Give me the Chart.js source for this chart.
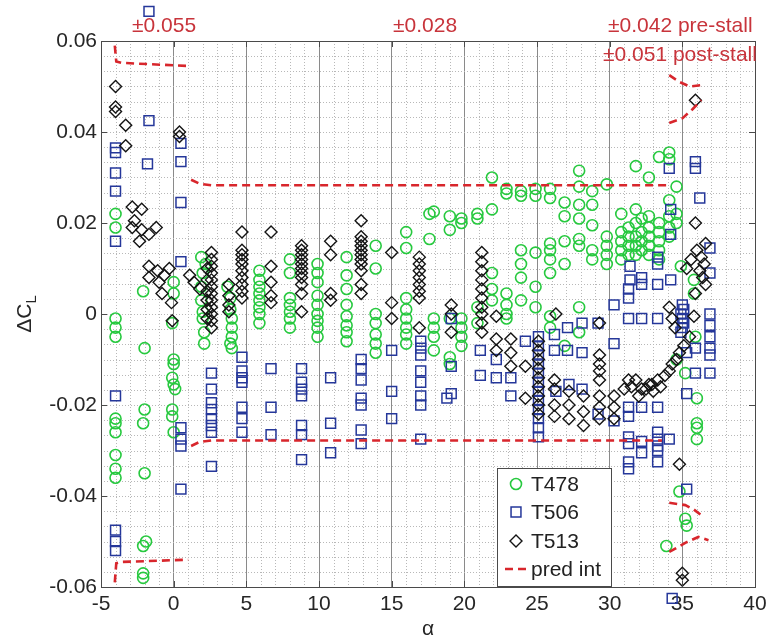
<!DOCTYPE html>
<html>
<head>
<meta charset="utf-8">
<title>Delta CL vs alpha</title>
<script src="https://cdn.jsdelivr.net/npm/chart.js@4.4.0/dist/chart.umd.min.js"></script>
<style>
  body { margin: 0; background: #fff; }
  #wrap { width: 779px; height: 641px; }
</style>
</head>
<body>
<div id="wrap"><canvas id="dclChart" width="779" height="641"></canvas></div>
<script>
    // axis ticks
    var xTicks = [-5, 0, 5, 10, 15, 20, 25, 30, 35, 40];
    var yTicks = [-0.06, -0.04, -0.02, 0, 0.02, 0.04, 0.06];
    var seriesNames = ['T478', 'T506', 'T513', 'pred int'];
    var bandNotes = ['\u00b10.055', '\u00b10.028', '\u00b10.042 pre-stall', '\u00b10.051 post-stall'];

    // T478 (green circles), one line per alpha group
    var t478Alpha = [
        -4, -4, -4, -4, -4, -4, -4, -4, -4, -4, -4,
        -2.1, -2, -2, -2.1, -2, -1.9, -2.1, -2.1, -2.1,
        0, 0, -0.1, 0, 0, -0.1, 0, 0.1, -0.1, -0.1, 0,
        1.9, 2, 1.9, 1.9, 2, 2, 2.1, 2.2, 2.1,
        3.7, 3.9, 3.9, 4, 4, 4, 3.9, 4,
        5.9, 5.9, 5.9, 5.9, 5.9, 5.9, 5.9, 5.9,
        8, 8, 8, 8, 8, 8, 8,
        9.9, 9.9, 9.9, 9.9, 9.9, 9.9, 9.9, 9.9, 9.9,
        11.9, 11.9, 11.9, 11.9, 11.9, 11.9, 11.9, 11.9,
        13.9, 13.9, 13.9, 13.9, 13.9, 13.9, 13.9,
        16, 16, 16, 16, 16, 16, 16, 16,
        17.6, 17.6, 17.9, 17.9, 17.9, 17.9, 17.9,
        19, 19, 19, 19, 19,
        19.8, 19.8, 19.8, 19.8, 19.8, 19.8,
        20.9, 20.9, 20.9, 20.9,
        21.9, 21.9, 21.9, 21.9, 21.9,
        22.9, 22.9, 22.9, 22.9, 22.9, 22.9,
        23.9, 23.9, 23.9, 23.9, 23.9, 23.9,
        24.9, 24.9, 24.9, 24.9, 24.9,
        25.9, 25.9, 25.9, 25.9, 25.9, 25.9, 25.9, 25.9,
        26.9, 26.9, 26.9, 26.9, 26.9,
        27.9, 27.9, 27.9, 27.9, 27.9, 27.9, 27.9, 27.9,
        28.8, 28.8, 28.8, 28.8, 28.8,
        29.8, 29.8, 29.8, 29.8, 29.8,
        30.8, 30.8, 30.8, 30.8, 30.8,
        31.3, 31.3, 31.3, 31.3,
        31.8, 31.8, 31.8, 31.8, 31.8, 31.8,
        32.2, 32.2, 32.2, 32.2,
        32.7, 32.7, 32.7, 32.7, 32.7, 32.7,
        33.4, 33.4, 33.4, 33.4, 33.4, 33.4,
        34.1, 34.1, 34.1, 34.1, 34.1, 34.1,
        34.6, 34.6, 34.6,
        34.9, 35.8, 35.8, 34.6, 35.2, 34.8, 35.2, 35.3, 33.9,
        35.9, 36, 36, 36, 36
    ];
    var t478Dcl = [
        0.022, 0.019, -0.001, -0.003, -0.005, -0.023, -0.024, -0.026, -0.031, -0.034, -0.036,
        0.005, -0.0075, -0.021, -0.024, -0.035, -0.050, -0.051, -0.057, -0.058,
        0.007, 0.0045, -0.002, -0.010, -0.011, -0.014, -0.0155, -0.0165, -0.021, -0.0225, -0.026,
        0.0125, 0.009, 0.006, 0.003, 0.0005, -0.001, -0.004, 0.011, -0.0065,
        0.006, 0.0035, 0.001, -0.001, -0.003, -0.005, -0.0065, -0.0075,
        0.0095, 0.0075, 0.006, 0.0045, 0.003, 0.0015, 0, -0.002,
        0.012, 0.009, 0.0035, 0.002, 0.0005, -0.001, -0.003,
        0.011, 0.009, 0.007, 0.004, 0.002, 0, -0.0015, -0.003, -0.005,
        0.0125, 0.0085, 0.0055, 0.002, -0.0005, -0.0025, -0.004, -0.006,
        0.015, 0.010, 0, -0.002, -0.0045, -0.0065, -0.0085,
        0.018, 0.0145, 0.0035, 0.001, -0.001, -0.003, -0.0045, -0.0065,
        0.022, 0.0165, 0.0225, -0.001, -0.003, -0.005, -0.008,
        0.0215, 0.0185, -0.001, -0.0095, -0.011,
        0.021, 0.020, -0.001, -0.003, -0.005, -0.007,
        0.022, 0.021, 0.0015, -0.002,
        0.023, 0.030, 0.009, 0.0055, 0.003,
        0.0275, 0.0265, 0.0045, 0.002, 0, -0.001,
        0.027, 0.026, 0.014, 0.011, 0.008, 0.003,
        0.0275, 0.026, 0.0135, 0.006, 0.0015,
        0.0275, 0.0255, 0.0155, 0.014, 0.012, 0.009, -0.0005, -0.003,
        0.0245, 0.0215, 0.016, 0.011, -0.007,
        0.0315, 0.028, 0.024, 0.021, 0.0165, 0.015, 0.0015, -0.004,
        0.027, 0.024, 0.0195, 0.014, 0.012,
        0.0285, 0.017, 0.015, 0.013, 0.011,
        0.022, 0.018, 0.016, 0.014, 0.012,
        0.019, 0.017, 0.015, 0.013,
        0.0325, 0.023, 0.020, 0.017, 0.015, 0.013,
        0.021, 0.018, 0.016, 0.014,
        0.030, 0.0215, 0.019, 0.017, 0.015, 0.013,
        0.0345, 0.020, 0.018, 0.016, 0.014, 0.012,
        0.0355, 0.034, 0.025, 0.0215, 0.019, 0.017,
        0.028, 0.022, 0.020,
        0.0105, 0.0075, 0.0045, -0.010, -0.013, -0.039, -0.045, -0.0465, -0.051,
        -0.005, -0.0185, -0.024, -0.025, -0.0275
    ];

    // T506 (blue squares)
    var t506Alpha = [
        -4, -4, -4, -4, -4, -4, -4, -4, -4,
        -1.7, -1.7, -1.8,
        0.5, 0.5, 0.5, 0.5, 0.5, 0.5, 0.5, 0.5,
        2.6, 2.6, 2.6, 2.6, 2.6, 2.6, 2.6, 2.6,
        4.7, 4.7, 4.7, 4.7, 4.7, 4.7, 4.7,
        6.7, 6.7, 6.7,
        8.8, 8.8, 8.8, 8.8, 8.8, 8.8, 8.8,
        10.8, 10.8, 10.8,
        12.9, 12.9, 12.9, 12.9, 12.9, 12.9, 12.9,
        15, 15, 15,
        17, 17, 17, 17, 17, 17, 17, 17,
        19.1, 19.1, 18.8, 19.1,
        21.1, 21.1, 22.2, 22.2, 23.2, 23.2, 24.2,
        25.1, 25.1, 25.1, 25.1, 25.1, 25.1, 25.1, 25.1, 25.1, 25.1, 25.1, 25.1,
        26.2, 26.2, 26.3,
        27.1, 27.1, 27.2,
        28.1, 28.1, 28.1,
        29.2, 29.2,
        30.3, 30.3, 30.3,
        31.4, 31.4, 31.3, 31.3, 31.3, 31.3, 31.3, 31.3, 31.3, 31.3, 31.3,
        32.2, 32.2, 32.2, 32.2, 32.2, 32.2,
        33.3, 33.3, 33.3, 33.3, 33.3, 33.3, 33.3, 33.3, 33.3, 33.3,
        34.1, 34.2, 34.2, 34.2, 34.1,
        35, 35.1, 34.9, 35, 35.1, 35, 34.9, 35.3, 35.3, 35.3, 34.3,
        35.9, 35.9, 35.9, 35.9, 36.2,
        36.9, 36.9, 36.9, 36.9, 36.9, 36.9, 36.9, 36.9
    ];
    var t506Dcl = [
        0.0365, 0.0355, 0.031, 0.027, 0.016, -0.018, -0.0475, -0.050, -0.052,
        0.0665, 0.0425, 0.033,
        0.0375, 0.0335, 0.0245, 0.0115, -0.025, -0.0275, -0.029, -0.0385,
        -0.013, -0.0165, -0.0195, -0.021, -0.023, -0.0245, -0.026, -0.0335,
        -0.0095, -0.0125, -0.014, -0.015, -0.0205, -0.023, -0.026,
        -0.012, -0.0205, -0.0265,
        -0.012, -0.015, -0.0165, -0.018, -0.0245, -0.0265, -0.032,
        -0.014, -0.024, -0.0305,
        -0.010, -0.012, -0.0145, -0.0185, -0.020, -0.0255, -0.0285,
        -0.008, -0.017, -0.023,
        -0.006, -0.0075, -0.009, -0.0125, -0.015, -0.018, -0.020, -0.0275,
        -0.001, -0.0115, -0.0185, -0.0175,
        -0.008, -0.0135, -0.010, -0.014, -0.014, -0.018, -0.006,
        -0.005, -0.007, -0.009, -0.011, -0.013, -0.015, -0.017, -0.019, -0.021, -0.023, -0.025, -0.027,
        -0.0045, -0.008, -0.017,
        -0.003, -0.008, -0.0155,
        -0.002, -0.0085, -0.0165,
        -0.002, -0.022,
        0.002, -0.0065, -0.0235,
        0.0105, 0.0075, 0.0055, 0.0035, -0.001, -0.0205, -0.0225, -0.027, -0.0285, -0.0325, -0.034,
        0.008, 0.0065, -0.001, -0.0205, -0.028, -0.0305,
        0.0125, 0.011, 0.0065, -0.001, -0.0205, -0.026, -0.0275, -0.029, -0.030, -0.0325,
        0.032, 0.023, 0.0175, 0.0075, -0.0275,
        0.002, 0.001, 0, -0.001, -0.002, -0.003, -0.004, -0.0085, -0.0175, -0.0385, -0.0625,
        0.0335, 0.032, -0.0075, -0.013, 0.0255,
        0.0145, 0.009, 0, -0.0025, -0.005, -0.0075, -0.009, -0.013
    ];

    // T513 (black diamonds)
    var t513Alpha = [
        -4, -4, -4, -3.3, -3.3,
        -2.85, -2.2, -2.7, -2.85, -2.2, -2.35, -1.7, -1.2, -1.7, -1.1, -0.65, -1.7, -1.0, -0.8, -0.15, -0.1,
        0.4, 0.4, -0.3, 1.1, 1.4, 1.8,
        2.3, 2.3, 2.3, 2.3, 2.3, 2.3,
        2.6, 2.6, 2.6, 2.6, 2.6, 2.6, 2.6, 2.6, 2.6, 2.6, 2.6, 2.6,
        3.8, 3.8, 3.8, 3.8,
        4.7, 4.7, 4.7, 4.7, 4.7, 4.7, 4.7, 4.7, 4.7, 4.7,
        6.7, 6.7, 6.7, 6.7, 6.7,
        8.8, 8.8, 8.8, 8.8, 8.8, 8.8, 8.8, 8.8, 8.8, 8.8, 8.8,
        10.8, 10.8, 10.8, 10.8,
        12.9, 12.9, 12.9, 12.9, 12.9, 12.9, 12.9, 12.9, 12.9, 12.9, 12.9,
        15, 15, 15,
        16.9, 16.9, 16.9, 16.9, 16.9, 16.9, 16.9, 16.9,
        19.1, 19.1, 19.1,
        21.2, 21.2, 21.2, 21.2, 21.2, 21.2, 21.2, 21.2, 21.2, 21.2,
        22.2, 22.2, 22.2, 23.2, 23.2, 23.2, 24.2, 24.2,
        25.1, 25.1, 25.1, 25.1, 25.1, 25.1, 25.1, 25.1, 25.1,
        26.3, 26.2, 26.2, 26.2, 26.2,
        27.2, 27.2, 27.2,
        28.2, 28.2, 28.2,
        29.3, 29.3, 29.3, 29.3, 29.3, 29.3, 29.3, 29.3,
        30.3, 30.3, 30.3,
        31.0, 31.3, 31.5, 31.8, 32.0, 32.2, 32.5, 32.7, 32.9, 33.0, 33.3, 33.5,
        33.8, 34.1, 34.3, 34.6, 34.8, 35.1, 35.5, 35.8, 34.5, 34.3, 34.1,
        35.9, 35.9, 35.9, 36.6, 36.0, 36.3, 36.5, 36.2, 36.4, 35.6, 35.3, 36.6,
        34.8, 35.0, 35.0
    ];
    var t513Dcl = [
        0.050, 0.0455, 0.0445, 0.0415, 0.037,
        0.0235, 0.023, 0.0205, 0.019, 0.0185, 0.016, 0.0175, 0.019, 0.0105, 0.0095, 0.0085, 0.008, 0.007, 0.0045, 0.0025, -0.0015,
        0.040, 0.039, 0.010, 0.0085, 0.007, 0.0055,
        0.010, 0.0075, 0.005, 0.003, 0.001, -0.001,
        0.0135, 0.012, 0.0105, 0.009, 0.0075, 0.006, 0.0045, 0.003, 0.0015, 0, -0.0015, -0.003,
        0.0065, 0.004, 0.002, 0.0005,
        0.018, 0.014, 0.013, 0.012, 0.011, 0.0095, 0.008, 0.0065, 0.005, 0.0035,
        0.018, 0.0105, 0.007, 0.004, 0.0025,
        0.015, 0.014, 0.013, 0.012, 0.011, 0.010, 0.009, 0.008, 0.0065, 0.0045, 0.0005,
        0.016, 0.013, 0.0045, 0.003,
        0.0205, 0.017, 0.016, 0.015, 0.014, 0.013, 0.012, 0.011, 0.0095, 0.0065, 0.0045,
        0.0135, 0.0025, -0.001,
        0.0125, 0.011, 0.0095, 0.008, 0.0065, 0.005, 0.0035, -0.003,
        0.002, 0, -0.004,
        0.0135, 0.0115, 0.0095, 0.0075, 0.0055, 0.0035, 0.0015, 0, -0.002, -0.004,
        -0.0005, -0.0055, -0.008, -0.0055, -0.0085, -0.0115, -0.0115, -0.0185,
        -0.006, -0.008, -0.010, -0.012, -0.014, -0.016, -0.018, -0.020, -0.022,
        0, -0.0145, -0.0165, -0.020, -0.0225,
        -0.017, -0.020, -0.023,
        -0.018, -0.0215, -0.0245,
        -0.002, -0.009, -0.011, -0.0125, -0.0145, -0.018, -0.0205, -0.023,
        -0.018, -0.0205, -0.023,
        -0.0165, -0.0145, -0.016, -0.0145, -0.018, -0.0165, -0.0165, -0.0155, -0.0155, -0.017, -0.0145, -0.016,
        -0.0135, -0.0125, -0.011, -0.010, -0.0085, -0.007, -0.005, -0.0005, -0.003, -0.001, 0.0015,
        0.047, 0.020, 0.0045, 0.0155, 0.014, 0.0125, 0.011, 0.0095, 0.008, 0.012, 0.010, 0.0065,
        -0.033, -0.057, -0.0585
    ];

    // prediction interval bounds, null splits the segments
    var predAlpha = [
        -4.05, -3.95, -3.6, 1.0, 1.0,
        -4.05, -3.95, -3.6, 1.0, 1.0,
        1.2, 1.8, 2.6, 34.0, 34.0,
        1.2, 1.8, 2.6, 33.6, 33.6,
        34.1, 34.8, 35.5, 36.3, 36.3,
        34.1, 35.0, 35.7, 36.3, 36.3,
        34.1, 35.2, 35.8, 36.3, 36.3,
        34.1, 35.2, 36.1, 36.8
    ];
    var predDcl = [
        0.059, 0.0555, 0.0552, 0.0545, null,
        -0.059, -0.0548, -0.0545, -0.054, null,
        0.0295, 0.0286, 0.0283, 0.0283, null,
        -0.029, -0.0281, -0.0278, -0.0278, null,
        0.0525, 0.051, 0.050, 0.0503, null,
        0.042, 0.043, 0.045, 0.047, null,
        -0.0415, -0.042, -0.043, -0.0442, null,
        -0.0523, -0.0503, -0.049, -0.0497
    ];

    function pts(xs, ys) {
        return xs.map(function(x, i) { return { x: x, y: ys[i] }; });
    }

    var FONT = '"Liberation Sans", Arial, Helvetica, sans-serif';
    var GREEN = '#27c93f', BLUE = '#25379a', BLACK = '#141414', RED = '#d8262c';

    function marker(ctx, style, r, cx, cy) {
        ctx.beginPath();
        if (style === 'circle') {
            ctx.arc(cx, cy, r, 0, Math.PI * 2);
        } else if (style === 'rect') {
            var s = r * Math.SQRT1_2;
            ctx.rect(cx - s, cy - s, 2 * s, 2 * s);
        } else {
            ctx.moveTo(cx, cy - r); ctx.lineTo(cx + r, cy);
            ctx.lineTo(cx, cy + r); ctx.lineTo(cx - r, cy); ctx.closePath();
        }
        ctx.stroke();
    }

    // dotted matlab style grid
    var minorGrid = {
        id: 'minorGrid',
        beforeDatasetsDraw: function(chart) {
            var ctx = chart.ctx, a = chart.chartArea, x = chart.scales.x, y = chart.scales.y;
            ctx.save();
            ctx.strokeStyle = '#b8b8b8';
            ctx.lineWidth = 1;
            ctx.setLineDash([1, 2]);
            ctx.beginPath();
            for (var v = -4; v < 40; v++) {
                if (v % 5 === 0) continue;
                var px = Math.round(x.getPixelForValue(v)) + 0.5;
                ctx.moveTo(px, a.top);
                ctx.lineTo(px, a.bottom);
            }
            for (var i = 1; i < 36; i++) {
                var py = Math.round(y.getPixelForValue(-0.06 + i * 0.02 / 6)) + 0.5;
                ctx.moveTo(a.left, py);
                ctx.lineTo(a.right, py);
            }
            ctx.stroke();
            ctx.restore();
        }
    };

    // axes box, inner ticks, axis titles, markers that sit past the y limits
    var frame = {
        id: 'frame',
        afterDatasetsDraw: function(chart) {
            var ctx = chart.ctx, a = chart.chartArea, x = chart.scales.x, y = chart.scales.y;
            ctx.save();

            // chart.js skips points outside the area, matlab still shows them
            var ds = chart.data.datasets[1];
            ctx.strokeStyle = ds.pointBorderColor;
            ctx.lineWidth = ds.pointBorderWidth;
            ds.data.forEach(function(p) {
                if (p.y > y.max || p.y < y.min) {
                    marker(ctx, ds.pointStyle, ds.pointRadius, x.getPixelForValue(p.x), y.getPixelForValue(p.y));
                }
            });

            ctx.strokeStyle = '#4a4a4a';
            ctx.lineWidth = 1;
            ctx.strokeRect(Math.round(a.left) + 0.5, Math.round(a.top) + 0.5,
                Math.round(a.right - a.left), Math.round(a.bottom - a.top));
            ctx.beginPath();
            xTicks.forEach(function(v) {
                var px = Math.round(x.getPixelForValue(v)) + 0.5;
                ctx.moveTo(px, a.bottom); ctx.lineTo(px, a.bottom - 6);
                ctx.moveTo(px, a.top); ctx.lineTo(px, a.top + 6);
            });
            yTicks.forEach(function(v) {
                var py = Math.round(y.getPixelForValue(v)) + 0.5;
                ctx.moveTo(a.left, py); ctx.lineTo(a.left + 6, py);
                ctx.moveTo(a.right, py); ctx.lineTo(a.right - 6, py);
            });
            ctx.stroke();

            ctx.fillStyle = '#262626';
            ctx.font = '21px ' + FONT;
            ctx.textAlign = 'center';
            ctx.textBaseline = 'middle';
            ctx.fillText('\u03b1', (a.left + a.right) / 2, 629);

            // y title: delta C with subscript L
            ctx.translate(31, (a.top + a.bottom) / 2);
            ctx.rotate(-Math.PI / 2);
            ctx.textAlign = 'left';
            ctx.textBaseline = 'alphabetic';
            var w = ctx.measureText('\u0394C').width;
            ctx.font = '15px ' + FONT;
            var ws = ctx.measureText('L').width;
            var x0 = -(w + ws) / 2;
            ctx.font = '21px ' + FONT;
            ctx.fillText('\u0394C', x0, 0);
            ctx.font = '15px ' + FONT;
            ctx.fillText('L', x0 + w, 5);
            ctx.restore();
        }
    };

    // red interval notes above the plot
    var notes = {
        id: 'notes',
        afterDraw: function(chart) {
            var ctx = chart.ctx;
            ctx.save();
            ctx.fillStyle = '#c8343b';
            ctx.font = '21px ' + FONT;
            ctx.textBaseline = 'middle';
            ctx.textAlign = 'left';
            ctx.fillText(bandNotes[0], 132, 26);
            ctx.fillText(bandNotes[1], 393, 26);
            ctx.fillText(bandNotes[2], 608, 26);
            ctx.fillText(bandNotes[3], 603, 55);
            ctx.restore();
        }
    };

    // legend box inside the axes
    var boxLegend = {
        id: 'boxLegend',
        afterDraw: function(chart) {
            var ctx = chart.ctx;
            var L = 497, T = 468, W = 114, H = 119;
            ctx.save();
            ctx.fillStyle = '#fff';
            ctx.fillRect(L, T, W, H);
            ctx.strokeStyle = '#4a4a4a';
            ctx.lineWidth = 1;
            ctx.strokeRect(L + 0.5, T + 0.5, W, H - 1);
            var rows = [484, 512, 541, 569];
            var mx = 516;
            chart.data.datasets.forEach(function(ds, i) {
                var cy = rows[i];
                if (ds.pointRadius > 0) {
                    ctx.lineWidth = ds.pointBorderWidth;
                    ctx.strokeStyle = ds.pointBorderColor;
                    marker(ctx, ds.pointStyle, ds.pointRadius, mx, cy);
                } else {
                    ctx.strokeStyle = ds.borderColor;
                    ctx.lineWidth = ds.borderWidth;
                    ctx.setLineDash(ds.borderDash);
                    ctx.beginPath();
                    ctx.moveTo(505, cy); ctx.lineTo(530, cy);
                    ctx.stroke();
                    ctx.setLineDash([]);
                }
                ctx.fillStyle = '#222';
                ctx.font = '21px ' + FONT;
                ctx.textBaseline = 'middle';
                ctx.fillText(seriesNames[i], 531, cy + 1);
            });
            ctx.restore();
        }
    };

    var ctx = document.getElementById('dclChart').getContext('2d');
    var dclChart = new Chart(ctx, {
        type: 'scatter',
        data: {
            datasets: [{
                label: seriesNames[0],
                data: pts(t478Alpha, t478Dcl),
                pointStyle: 'circle',
                pointRadius: 5.5,
                pointBorderWidth: 1.6,
                pointBorderColor: GREEN,
                borderColor: GREEN,
                pointBackgroundColor: 'rgba(0,0,0,0)',
                order: 4
            }, {
                label: seriesNames[1],
                data: pts(t506Alpha, t506Dcl),
                pointStyle: 'rect',
                pointRadius: 7,
                pointBorderWidth: 1.5,
                pointBorderColor: BLUE,
                borderColor: BLUE,
                pointBackgroundColor: 'rgba(0,0,0,0)',
                order: 3
            }, {
                label: seriesNames[2],
                data: pts(t513Alpha, t513Dcl),
                pointStyle: 'rectRot',
                pointRadius: 6,
                pointBorderWidth: 1.4,
                pointBorderColor: BLACK,
                borderColor: BLACK,
                pointBackgroundColor: 'rgba(0,0,0,0)',
                order: 2
            }, {
                label: seriesNames[3],
                data: pts(predAlpha, predDcl),
                showLine: true,
                spanGaps: false,
                pointRadius: 0,
                borderColor: RED,
                borderWidth: 2.6,
                borderDash: [8, 5],
                order: 1
            }]
        },
        options: {
            responsive: false,
            animation: false,
            layout: { padding: { top: 41, right: 24, left: 0, bottom: 0 } },
            plugins: {
                legend: { display: false },
                tooltip: { enabled: false }
            },
            scales: {
                x: {
                    type: 'linear',
                    min: -5,
                    max: 40,
                    afterBuildTicks: function(s) { s.ticks = xTicks.map(function(v) { return { value: v }; }); },
                    afterFit: function(s) { s.height = 54; },
                    grid: { color: '#8a8a8a', lineWidth: 1, drawTicks: false },
                    border: { display: false },
                    ticks: {
                        padding: 5,
                        maxRotation: 0,
                        color: '#262626',
                        font: { size: 21, family: FONT },
                        callback: function(v) { return String(v); }
                    }
                },
                y: {
                    type: 'linear',
                    min: -0.06,
                    max: 0.06,
                    afterBuildTicks: function(s) { s.ticks = yTicks.map(function(v) { return { value: v }; }); },
                    afterFit: function(s) { s.width = 101; },
                    grid: { display: false, drawTicks: false },
                    border: { display: false },
                    ticks: {
                        padding: 4,
                        color: '#262626',
                        font: { size: 21, family: FONT },
                        callback: function(v) { return String(v); }
                    }
                }
            }
        },
        plugins: [minorGrid, frame, notes, boxLegend]
    });
</script>
</body>
</html>
